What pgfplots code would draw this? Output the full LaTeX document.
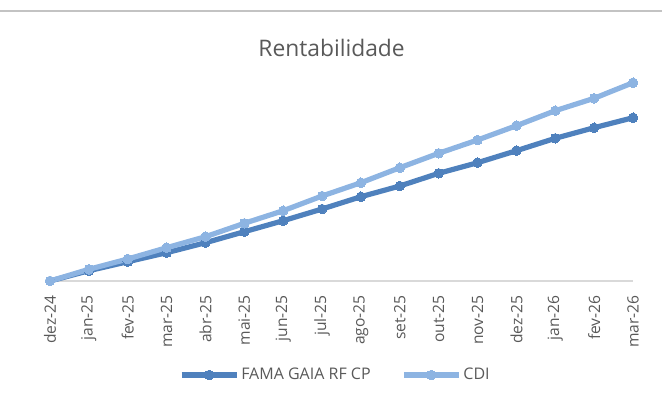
\documentclass[border=0pt]{standalone}
\usepackage{fontspec}
\setmainfont{Open Sans}
\usepackage{pgfplots}
\pgfplotsset{compat=1.18}
\definecolor{fama}{RGB}{79,129,189}
\definecolor{cdi}{RGB}{141,180,226}
\definecolor{axgray}{RGB}{217,217,217}
\definecolor{topgray}{RGB}{195,195,195}
\definecolor{txtgray}{RGB}{89,89,89}
\begin{document}
\begin{tikzpicture}
\path[use as bounding box] (0,0) rectangle (331pt,204.5pt);
\draw[draw=topgray, line width=1pt] (0pt,199pt) -- (331pt,199pt);
\begin{axis}[
  at={(25pt,64pt)}, anchor=south west,
  scale only axis, width=291.5pt, height=105.5pt,
  xmin=0, xmax=15, ymin=0, ymax=21.1,
  axis x line*=bottom, axis y line=none,
  x axis line style={color=axgray, line width=0.7pt},
  xtick={0,...,15},
  xticklabels={dez-24,jan-25,fev-25,mar-25,abr-25,mai-25,jun-25,jul-25,ago-25,set-25,out-25,nov-25,dez-25,jan-26,fev-26,mar-26},
  major tick length=0pt,
  xticklabel shift=7pt,
  xticklabel style={rotate=90, anchor=east, inner sep=0pt, font=\fontsize{7.8}{9}\selectfont, text=txtgray},
  title={Rentabilidade},
  every axis title shift=0pt,
  title style={at={(0.483,1.063)}, anchor=base, font=\fontsize{11.4}{13}\selectfont, text=txtgray},
  clip=false,
  legend columns=2,
  legend style={at={(0.4895,-0.4455)}, anchor=center, draw=none, fill=none,
    font=\fontsize{8}{9}\selectfont, text=txtgray,
    nodes={inner xsep=1pt},
    /tikz/every even column/.append style={column sep=14.3pt}},
  legend image code/.code={
    \draw[#1, mark repeat=2, mark phase=2] plot coordinates {(0pt,0pt) (13.75pt,0pt) (27.5pt,0pt)};
  },
]
\addplot[color=fama, line width=2.6pt, mark=*, mark size=2.4pt, mark options={fill=fama, draw=fama, line width=0pt}] coordinates {
(0,0) (1,1.03) (2,1.93) (3,2.83) (4,3.83) (5,4.93) (6,6.03) (7,7.20) (8,8.43) (9,9.50) (10,10.77) (11,11.83) (12,13.03) (13,14.27) (14,15.33) (15,16.33)};
\addlegendentry{FAMA GAIA RF CP}
\addplot[color=cdi, line width=2.6pt, mark=*, mark size=2.4pt, mark options={fill=cdi, draw=cdi, line width=0pt}] coordinates {
(0,0) (1,1.17) (2,2.20) (3,3.33) (4,4.43) (5,5.77) (6,7.03) (7,8.50) (8,9.83) (9,11.33) (10,12.77) (11,14.10) (12,15.53) (13,17.03) (14,18.27) (15,19.83)};
\addlegendentry{CDI}
\end{axis}
\end{tikzpicture}
\end{document}
